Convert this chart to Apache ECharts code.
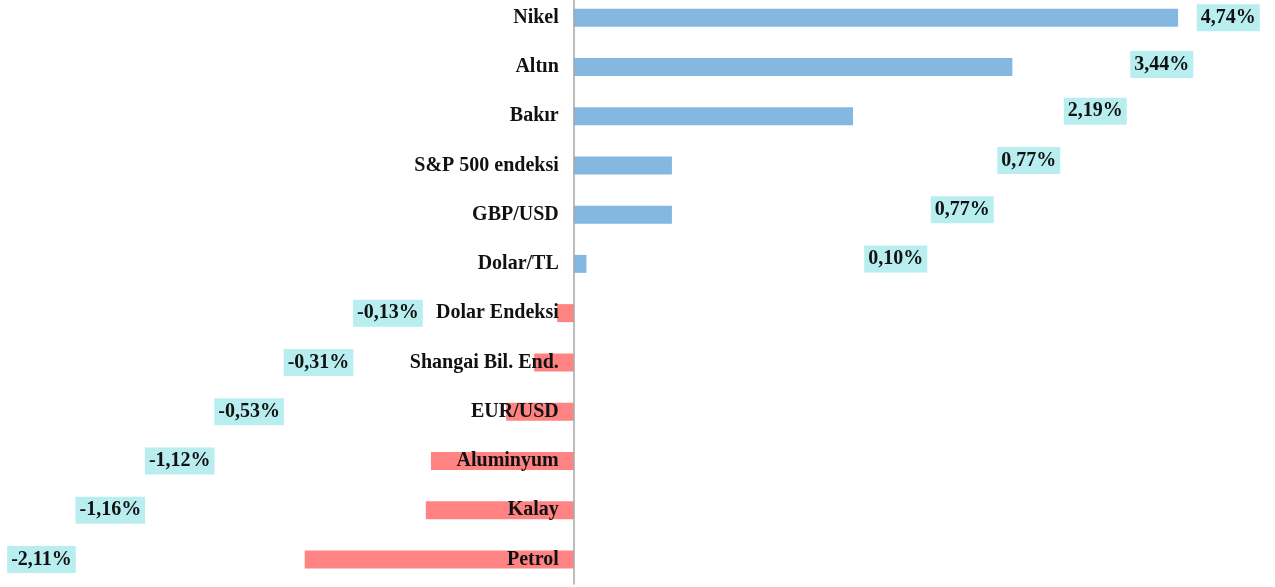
<!doctype html>
<html>
    <head>
        <meta charset="utf-8">
        <title>Haftalik Degisim</title>
        <style>
            html, body { margin: 0; padding: 0; background: #fff; }
            #main { width: 1275px; height: 587px; }
        </style>
    </head>
    <body>
        <div id="main"></div>
        <script src="https://cdn.jsdelivr.net/npm/echarts@6/dist/echarts.min.js"></script>
        <script>
            var categories = ['Nikel', 'Altın', 'Bakır', 'S&P 500 endeksi', 'GBP/USD', 'Dolar/TL',
                'Dolar Endeksi', 'Shangai Bil. End.', 'EUR/USD', 'Aluminyum', 'Kalay', 'Petrol'];
            var values = [4.74, 3.44, 2.19, 0.77, 0.77, 0.10, -0.13, -0.31, -0.53, -1.12, -1.16, -2.11];

            var chart = echarts.init(document.getElementById('main'), null, {
                devicePixelRatio: 1
            });

            var font = 'Liberation Serif, Times New Roman, serif';
            var xMin = -4.5, xMax = 5.5;
            var width = 1275;
            var zeroX = width * (0 - xMin) / (xMax - xMin);

            // labels sit on a staircase, not next to the bars
            function labelFor(v, i) {
                if (v >= 0) {
                    return {
                        position: 'insideLeft',
                        distance: 0,
                        offset: [623 - 66.5 * i, -Math.min(5, i * 2.5)]
                    };
                }
                return {
                    position: 'insideRight',
                    distance: 0,
                    offset: [-151 - 69.4 * (i - 6), 0]
                };
            }

            var data = values.map(function (v, i) {
                return {
                    value: v,
                    itemStyle: { color: v >= 0 ? '#85b8e1' : '#ff8383' },
                    label: labelFor(v, i)
                };
            });

            chart.setOption({
                animation: false,
                grid: { left: 0, right: 0, top: -7, bottom: 3, outerBoundsMode: 'none', containLabel: false },
                xAxis: {
                    type: 'value',
                    min: xMin,
                    max: xMax,
                    show: false,
                    splitLine: { show: false }
                },
                yAxis: {
                    type: 'category',
                    data: categories,
                    inverse: true,
                    z: 10,
                    offset: -zeroX,
                    axisLine: { onZero: false, lineStyle: { color: '#a6a6a6', width: 1.5 } },
                    axisTick: { show: false },
                    axisLabel: {
                        margin: 15,
                        color: '#111',
                        fontFamily: font,
                        fontWeight: 'bold',
                        fontSize: 20
                    }
                },
                series: [{
                    type: 'bar',
                    barWidth: 18,
                    data: data,
                    label: {
                        show: true,
                        formatter: function (p) {
                            return p.value.toFixed(2).replace('.', ',') + '%';
                        },
                        color: '#111',
                        fontFamily: font,
                        fontWeight: 'bold',
                        fontSize: 20,
                        backgroundColor: '#b9eef0',
                        padding: [4, 4, 3, 4]
                    }
                }]
            });

            window.onresize = chart.resize;
        </script>
    </body>
</html>
